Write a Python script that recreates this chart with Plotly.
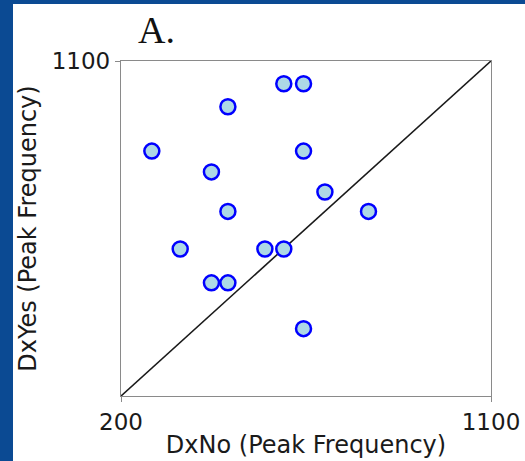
import plotly.graph_objects as go

# Peak frequency per subject, without (DxNo) and with (DxYes) the diagnosis
dx_no = [275, 344, 420, 420, 460, 460, 460, 550, 596, 596, 644, 644, 644, 696, 802]
dx_yes = [858, 595, 802, 504, 977, 696, 504, 595, 1039, 595, 1039, 858, 381, 748, 696]

axis_min, axis_max = 200, 1100
x_ticks = [200, 1100]
y_ticks = [1100]

W, H = 525, 461
L, R, T, B = 121, 34, 61, 65
pw, ph = W - L - R, H - T - B


def px_x(p):
    return (p - L) / pw


def px_y(p):
    return (H - B - p) / ph


fig = go.Figure()

# identity line
fig.add_trace(go.Scatter(
    x=[axis_min, axis_max], y=[axis_min, axis_max], mode="lines",
    line=dict(color="#1a1a1a", width=1.6), hoverinfo="skip", showlegend=False,
))

fig.add_trace(go.Scatter(
    x=dx_no, y=dx_yes, mode="markers",
    marker=dict(size=15, color="#add8e6", line=dict(color="#0000ff", width=2.5)),
    showlegend=False, cliponaxis=False,
))

axis_common = dict(
    range=[axis_min, axis_max], showgrid=False, zeroline=False, automargin=False,
    showline=True, linecolor="#8a8a8a", linewidth=1.3, mirror=True,
    ticks="outside", ticklen=5, tickcolor="#8a8a8a", tickwidth=1.3,
    tickfont=dict(family="DejaVu Sans", size=23, color="#1a1a1a"),
    title_font=dict(family="DejaVu Sans", size=24, color="#1a1a1a"),
)

fig.update_xaxes(axis_common, tickvals=x_ticks, ticktext=[str(v) for v in x_ticks],
                 title_text="DxNo (Peak Frequency)", title_standoff=2)
fig.update_yaxes(axis_common, tickvals=y_ticks, ticktext=[str(v) for v in y_ticks],
                 title_text="DxYes (Peak Frequency)", title_standoff=8)

# white slide panel over the blue slide background
fig.add_shape(type="rect", xref="paper", yref="paper", layer="below",
              x0=px_x(13), x1=px_x(W + 20), y0=px_y(H + 20), y1=px_y(4),
              fillcolor="white", line=dict(width=0))

fig.add_annotation(text="A.", xref="paper", yref="paper",
                   x=px_x(136), y=px_y(53), xanchor="left", yanchor="bottom",
                   showarrow=False,
                   font=dict(family="Liberation Serif", size=38, color="#111111"))

fig.update_layout(
    width=W, height=H,
    margin=dict(l=L, r=R, t=T, b=B),
    paper_bgcolor="#0b4a93",
    plot_bgcolor="white",
)

fig.write_html("out.html")
